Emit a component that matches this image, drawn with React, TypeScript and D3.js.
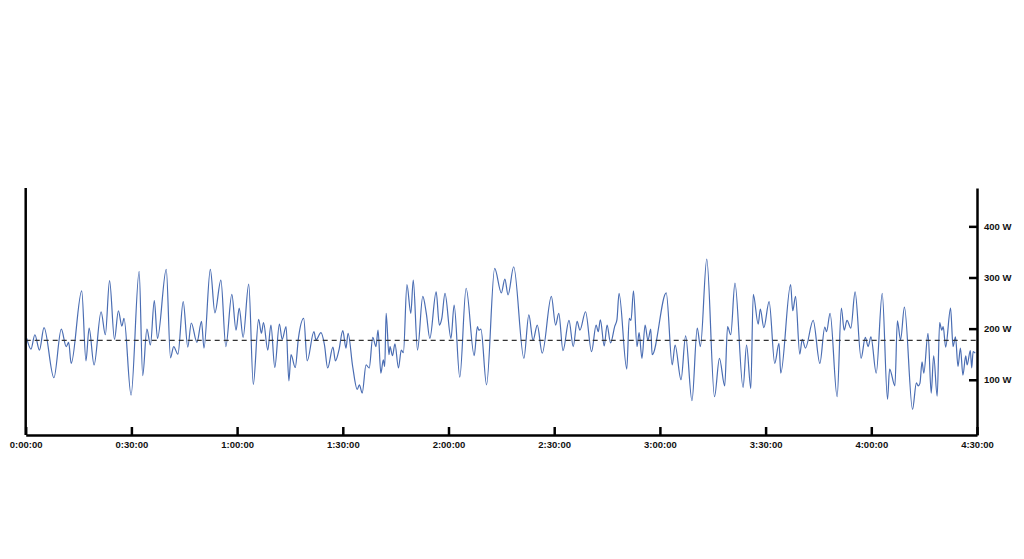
import React, { useRef, useEffect } from 'react';
import * as d3 from 'd3';

// elapsed time in minutes at each turning point
const minutes = [
  0.3, 1.5, 2.6, 3.9, 5.2, 8.0, 10.1, 11.5, 12.2, 12.9, 15.9, 17.1, 18.0, 19.4, 21.4, 22.6, 23.8, 25.2, 26.3, 27.3,
  27.9, 29.9, 32.2, 33.2, 34.4, 35.4, 36.5, 37.4, 39.9, 41.1, 42.0, 43.2, 44.7, 46.0, 47.0, 48.6, 49.9, 50.6, 52.4, 53.7,
  55.4, 56.8, 58.5, 59.7, 60.6, 61.7, 63.3, 64.6, 66.1, 66.9, 67.5, 68.7, 69.6, 70.7, 72.0, 72.8, 73.9, 74.7, 75.3, 76.5,
  77.4, 78.9, 79.9, 81.8, 82.4, 83.8, 84.8, 85.7, 87.2, 87.9, 88.9, 90.0, 90.9, 91.5, 92.8, 94.1, 94.7, 95.5, 96.6, 97.5,
  98.5, 99.4, 100.0, 100.8, 101.5, 101.9, 102.3, 103.1, 103.4, 104.1, 104.8, 105.8, 106.6, 107.2, 108.2, 109.3, 110.0, 111.2, 112.7, 113.7,
  114.7, 116.5, 117.4, 118.1, 119.0, 120.7, 121.6, 123.2, 125.0, 127.3, 128.2, 128.6, 129.2, 130.8, 133.1, 135.0, 136.0, 136.9, 138.5, 141.4,
  142.8, 144.0, 145.2, 146.6, 149.2, 150.4, 151.3, 152.5, 154.2, 155.4, 156.5, 157.3, 158.9, 160.6, 161.9, 162.5, 163.1, 164.2, 165.0, 166.0,
  167.2, 167.8, 168.4, 170.6, 171.3, 171.8, 172.5, 173.5, 174.1, 174.9, 175.8, 176.6, 177.4, 177.8, 181.8, 183.5, 184.3, 186.0, 187.3, 189.1,
  190.6, 191.5, 193.3, 195.5, 196.9, 198.4, 199.2, 200.1, 201.3, 203.6, 204.6, 205.8, 206.5, 207.9, 208.5, 209.5, 211.0, 212.6, 213.8, 214.3,
  217.1, 217.7, 218.5, 219.7, 220.4, 221.3, 223.5, 225.4, 226.8, 227.3, 228.3, 230.3, 231.5, 232.3, 233.1, 234.2, 235.4, 237.1, 238.3, 239.1,
  239.9, 241.4, 243.1, 244.6, 245.2, 246.7, 247.4, 248.3, 249.4, 251.7, 252.8, 253.3, 253.8, 254.4, 254.9, 256.1, 257.0, 257.7, 258.7, 259.4,
  260.0, 260.4, 261.1, 262.5, 263.2, 263.9, 264.6, 265.3, 266.0, 266.8, 267.2, 268.1, 268.5, 268.9, 269.5,
];

// power in watts at those points
const watts = [
  181, 160, 188, 158, 202, 104, 199, 165, 173, 132, 274, 137, 201, 129, 233, 188, 294, 179, 235, 205,
  220, 70, 312, 108, 199, 168, 255, 181, 316, 143, 165, 150, 253, 164, 211, 173, 214, 162, 316, 231,
  295, 165, 267, 197, 240, 183, 287, 91, 218, 191, 212, 158, 207, 124, 209, 179, 204, 98, 149, 124,
  181, 220, 137, 194, 178, 192, 168, 123, 164, 137, 158, 196, 162, 191, 126, 81, 90, 74, 129, 123,
  183, 165, 197, 113, 139, 126, 230, 149, 165, 147, 170, 123, 158, 153, 286, 230, 295, 158, 263, 230,
  181, 272, 207, 220, 269, 181, 246, 105, 279, 147, 204, 197, 199, 90, 318, 270, 297, 266, 321, 142,
  227, 177, 207, 152, 263, 207, 230, 157, 216, 165, 214, 197, 233, 155, 207, 194, 217, 166, 207, 172,
  205, 217, 269, 121, 220, 216, 274, 165, 192, 142, 207, 177, 199, 149, 270, 129, 168, 100, 186, 59,
  201, 165, 336, 67, 142, 88, 204, 188, 289, 85, 168, 83, 267, 209, 238, 202, 253, 132, 171, 113,
  286, 235, 263, 150, 179, 162, 216, 132, 203, 194, 230, 67, 240, 197, 216, 201, 272, 142, 183, 165,
  184, 113, 269, 62, 121, 88, 215, 178, 242, 42, 94, 88, 93, 135, 113, 191, 74, 147, 68, 212,
  197, 204, 164, 240, 165, 184, 126, 162, 109, 147, 129, 157, 123, 155, 152,
];

const average = 177;
const xTicks = [0, 30, 60, 90, 120, 150, 180, 210, 240, 270];
const yTicks = [100, 200, 300, 400];

const W = 1024;
const H = 559;

const fmtTime = (m: number) => `${Math.floor(m / 60)}:${String(m % 60).padStart(2, '0')}:00`;

const PowerChart: React.FC = () => {
  const svgRef = useRef<SVGSVGElement>(null);

  useEffect(() => {
    if (!svgRef.current) return;
    const svg = d3.select(svgRef.current);
    svg.selectAll('*').remove();

    const x = d3.scaleLinear().domain([0, 270]).range([25.7, 977]);
    const y = d3.scaleLinear().domain([-8, 475]).range([435, 188]);

    const data = minutes.map((m, i) => ({ m, w: watts[i] }));

    // power trace
    const line = d3.line<{ m: number; w: number }>()
      .x(d => x(d.m))
      .y(d => y(d.w))
      .curve(d3.curveMonotoneX);

    svg.append('path')
      .datum(data)
      .attr('d', line)
      .attr('fill', 'none')
      .attr('stroke', '#4a6db3')
      .attr('stroke-width', 1.2);

    // average line
    svg.append('line')
      .attr('x1', x(0)).attr('x2', x(270))
      .attr('y1', y(average)).attr('y2', y(average))
      .attr('stroke', '#333')
      .attr('stroke-width', 1.2)
      .attr('stroke-dasharray', '5,4');

    // left axis line
    svg.append('line')
      .attr('x1', x(0)).attr('x2', x(0))
      .attr('y1', y.range()[1]).attr('y2', y.range()[0])
      .attr('stroke', '#000')
      .attr('stroke-width', 2.5);

    const font = '"Liberation Sans", Arial, sans-serif';

    // bottom axis
    const xAxis = svg.append('g')
      .attr('transform', `translate(0,${y.range()[0]})`)
      .call(d3.axisBottom(x).tickValues(xTicks).tickFormat(d => fmtTime(+d)).tickSize(-8).tickSizeOuter(0).tickPadding(6));
    xAxis.selectAll('path, line').attr('stroke', '#000').attr('stroke-width', 2.5);
    xAxis.selectAll('text')
      .attr('font-family', font).attr('font-size', 9.5).attr('font-weight', 'bold').attr('fill', '#111');

    // right axis
    const yAxis = svg.append('g')
      .attr('transform', `translate(${x(270)},0)`)
      .call(d3.axisRight(y).tickValues(yTicks).tickFormat(d => `${d} W`).tickSize(-8).tickSizeOuter(0).tickPadding(7));
    yAxis.selectAll('path, line').attr('stroke', '#000').attr('stroke-width', 2.5);
    yAxis.selectAll('text')
      .attr('font-family', font).attr('font-size', 9.5).attr('font-weight', 'bold').attr('fill', '#111');
  }, []);

  return <svg ref={svgRef} width={W} height={H} style={{ position: 'absolute', left: 0, top: 0, background: '#fff' }} />;
};

export default function App() {
  return <PowerChart />;
}
